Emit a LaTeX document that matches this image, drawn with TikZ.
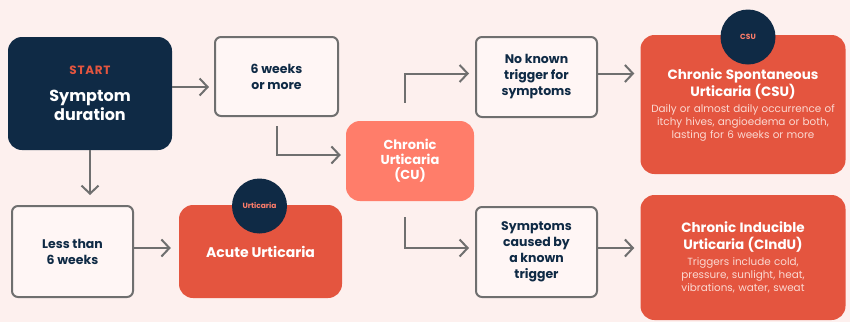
\documentclass[tikz,border=0pt]{standalone}
\usepackage{fontspec}
\setmainfont{Poppins}
\usetikzlibrary{arrows.meta}

\definecolor{pagebg}{HTML}{FDF0EE}
\definecolor{boxbg}{HTML}{FFF6F5}
\definecolor{navy}{HTML}{0F2A45}
\definecolor{urtred}{HTML}{E4553F}
\definecolor{salmon}{HTML}{FF7D6A}
\definecolor{linegray}{HTML}{6F6F6F}
\definecolor{desctext}{HTML}{FBD9D2}

\newcommand{\titlefont}{\bfseries\fontsize{13.5}{17}\selectfont}
\newcommand{\descfont}{\mdseries\fontsize{10.4}{13}\selectfont\color{desctext}}

\tikzset{
  flow/.style={draw=linegray, line width=2pt, -{Straight Barb[length=8pt,width=17pt,line width=2pt]}},
  choicebox/.style={draw=linegray, line width=2pt, fill=boxbg, rounded corners=6pt, align=center,
    text=navy, font=\bfseries\fontsize{12.5}{16}\selectfont},
  resultbox/.style={fill=urtred, rounded corners=14pt, align=center, text=white},
  badge/.style={circle, fill=navy, minimum size=55pt, inner sep=0pt, text=salmon,
    font=\bfseries\fontsize{7.5}{9}\selectfont},
}

\begin{document}
\begin{tikzpicture}[x=1pt,y=-1pt]
% background
\fill[pagebg] (0,0) rectangle (850,322);

% start
\node[fill=navy, rounded corners=14pt, minimum width=164pt, minimum height=113pt, align=center,
  text=white, font=\bfseries\fontsize{16}{19.5}\selectfont] (start) at (90,93.5)
  {{\color{urtred}\fontsize{12}{14}\selectfont\addfontfeature{LetterSpace=6}START}\\[7pt]Symptom\\duration};

% duration choices
\node[choicebox, minimum width=123pt, minimum height=79pt] (more) at (276.5,76.5) {6 weeks\\or more};
\node[choicebox, minimum width=121pt, minimum height=91pt] (less) at (72.5,251.5) {Less than\\6 weeks};

% acute
\node[resultbox, minimum width=163pt, minimum height=93pt, font=\bfseries\fontsize{14}{17}\selectfont]
  (acute) at (260.5,251.5) {Acute Urticaria};
\node[badge] (acutetag) at (259.5,206) {Urticaria};

% chronic
\node[fill=salmon, rounded corners=14pt, minimum width=128pt, minimum height=80pt, align=center,
  text=white, font=\bfseries\fontsize{13}{15}\selectfont] (cu) at (410,161) {Chronic\\Urticaria\\(CU)};

% trigger choices
\node[choicebox, minimum width=121pt, minimum height=80pt] (noknown) at (536.5,77) {No known\\trigger for\\symptoms};
\node[choicebox, minimum width=121pt, minimum height=90pt] (caused) at (536.5,252) {Symptoms\\caused by\\a known\\trigger};

% chronic results
\node[resultbox, text width=195pt, minimum width=205pt, minimum height=139pt] (csu) at (743,104.5)
  {{\titlefont Chronic Spontaneous\\Urticaria (CSU)\par}\vspace{3pt}
   {\descfont Daily or almost daily occurrence of\\itchy hives, angioedema or both,\\lasting for 6 weeks or more\par}};
\node[badge] (csutag) at (748,37) {CSU};
\node[resultbox, text width=195pt, minimum width=205pt, minimum height=125pt] (cindu) at (743,257.5)
  {{\titlefont Chronic Inducible\\Urticaria (CIndU)\par}\vspace{3pt}
   {\descfont Triggers include cold,\\pressure, sunlight, heat,\\vibrations, water, sweat\par}};

% arrows
\coordinate (cuin) at ([yshift=6pt]cu.west);
\coordinate (cuup) at ([xshift=-5pt]cu.north);
\coordinate (cudown) at ([xshift=-5pt]cu.south);
\coordinate (nkin) at ([yshift=3.5pt]noknown.west);
\coordinate (cbin) at ([yshift=4pt]caused.west);

\draw[flow, shorten >=5pt] ([yshift=6.5pt]start.east) -- ([yshift=6.5pt]start.east -| more.west);
\draw[flow, shorten >=10pt] (start.south) -- (start.south |- less.north);
\draw[flow, shorten >=8pt] ([yshift=3.5pt]less.east) -- ([yshift=3.5pt]less.east -| acute.west);
\draw[flow, shorten <=9pt, shorten >=5pt] (more.south) -- (more.south |- cuin) -- (cuin);
\draw[flow, shorten <=18pt, shorten >=6pt] (cuup) -- (cuup |- nkin) -- (nkin);
\draw[flow, shorten <=16pt, shorten >=6pt] (cudown) -- (cudown |- cbin) -- (cbin);
\draw[flow, shorten >=6pt] ([yshift=3.5pt]noknown.east) -- ([yshift=3.5pt]noknown.east -| csu.west);
\draw[flow, shorten >=6pt] ([yshift=4pt]caused.east) -- ([yshift=4pt]caused.east -| cindu.west);
\end{tikzpicture}
\end{document}
